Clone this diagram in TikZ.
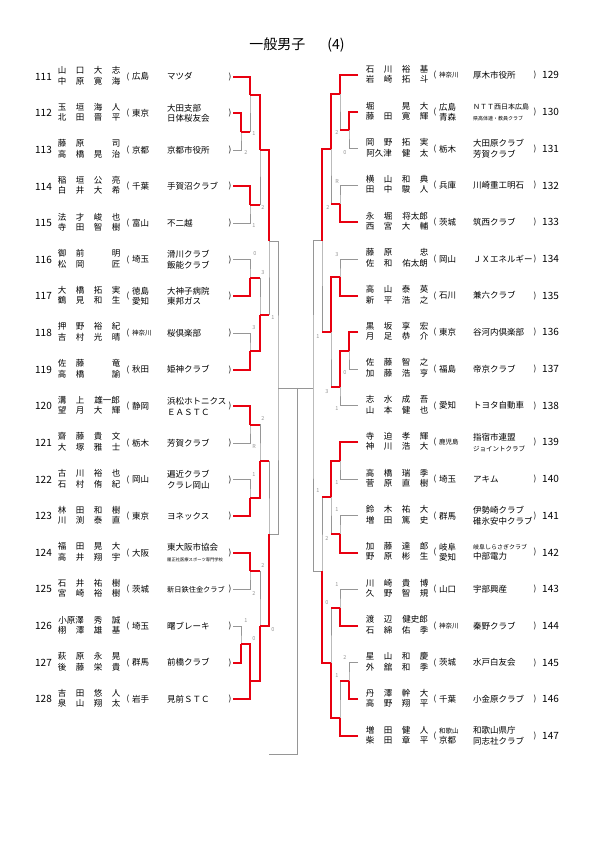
\documentclass[tikz,border=0pt]{standalone}
\usepackage{fontspec}
\setmainfont{Noto Sans CJK JP}
\usetikzlibrary{calc}
\definecolor{winred}{RGB}{232,0,16}
\definecolor{drawgray}{RGB}{150,150,150}
% name cells: one character per cell, or a wide cell for three characters
\newcommand\cl[1]{\makebox[18pt]{#1}}
\newcommand\cll[1]{\makebox[36pt]{#1}}
\newcommand\cells[4]{\cl{#1}\cl{#2}\cl{#3}\cl{#4}}
\newcommand\sm{\fontsize{6.5}{7.5}\selectfont}
\tikzset{
  title/.style={inner sep=0pt, font=\fontsize{14}{16}\selectfont},
  entryno/.style={inner sep=0pt, font=\fontsize{10}{12}\selectfont},
  names/.style={inner sep=0pt, anchor=west, align=left, font=\fontsize{8.5}{10.5}\selectfont},
  pref/.style={inner sep=0pt, anchor=west, align=left, font=\fontsize{8.5}{10.5}\selectfont},
  team/.style={inner sep=0pt, anchor=west, align=left, font=\fontsize{8.5}{10.5}\selectfont},
  paren/.style={inner sep=0pt, font=\fontsize{8}{10}\selectfont},
  score/.style={inner sep=0pt, text=drawgray, font=\fontsize{5.5}{6}\selectfont},
  gline/.style={draw=drawgray, line width=0.7pt},
  rline/.style={draw=winred, line width=2pt},
}
\begin{document}
\begin{tikzpicture}[x=1pt, y=-1pt]
    \useasboundingbox (0,0) rectangle (595,842);
    \node[title] (title) at (297,45) {一般男子\hspace{22pt}(4)};

    % Left half: 111 - 128
    \foreach \n/\na/\pr/\tm in {
        111/{\cells{山}{口}{大}{志}\\\cells{中}{原}{寛}{海}}/広島/マツダ,
        112/{\cells{玉}{垣}{海}{人}\\\cells{北}{田}{晋}{平}}/東京/{大田支部\\日体桜友会},
        113/{\cells{藤}{原}{}{司}\\\cells{高}{橋}{晃}{治}}/京都/京都市役所,
        114/{\cells{稲}{垣}{公}{亮}\\\cells{白}{井}{大}{希}}/千葉/手賀沼クラブ,
        115/{\cells{法}{才}{峻}{也}\\\cells{寺}{田}{智}{樹}}/富山/不二越,
        116/{\cells{御}{前}{}{明}\\\cells{松}{岡}{}{匠}}/埼玉/{滑川クラブ\\飯能クラブ},
        117/{\cells{大}{橋}{拓}{実}\\\cells{鶴}{見}{和}{生}}/{徳島\\愛知}/{大神子病院\\東邦ガス},
        118/{\cells{押}{野}{裕}{紀}\\\cells{吉}{村}{光}{晴}}/{\sm 神奈川}/桜倶楽部,
        119/{\cells{佐}{藤}{}{竜}\\\cells{高}{橋}{}{諭}}/秋田/姫神クラブ,
        120/{\cl{溝}\cl{上}\cll{雄一郎}\\\cells{望}{月}{大}{輝}}/静岡/{浜松ホトニクス\\ＥＡＳＴＣ},
        121/{\cells{齋}{藤}{貴}{文}\\\cells{大}{塚}{雅}{士}}/栃木/芳賀クラブ,
        122/{\cells{古}{川}{裕}{也}\\\cells{石}{村}{侑}{紀}}/岡山/{遍近クラブ\\クラレ岡山},
        123/{\cells{林}{田}{和}{樹}\\\cells{川}{渕}{泰}{直}}/東京/ヨネックス,
        124/{\cells{福}{田}{晃}{大}\\\cells{高}{井}{翔}{宇}}/大阪/{東大阪市協会\\{\fontsize{4.3}{5}\selectfont 履正社医療スポーツ専門学校}},
        125/{\cells{石}{井}{祐}{樹}\\\cells{宮}{崎}{裕}{樹}}/茨城/{\fontsize{7.2}{8}\selectfont 新日鉄住金クラブ},
        126/{\cll{小原澤}\cl{秀}\cl{誠}\\\cells{栩}{澤}{雄}{基}}/埼玉/曙ブレーキ,
        127/{\cells{萩}{原}{永}{晃}\\\cells{後}{藤}{栄}{貴}}/群馬/前橋クラブ,
        128/{\cells{吉}{田}{悠}{人}\\\cells{泉}{山}{翔}{太}}/岩手/見前ＳＴＣ}{
        \pgfmathsetmacro\y{76.6+36.63*(\n-111)}
        \node[entryno, anchor=east] (no\n) at (52,\y) {\n};
        \node[names] (nm\n) at (53,\y-1) {\na};
        \node[paren] (op\n) at (128,\y) {(};
        \node[pref] (pr\n) at (132,\y) {\pr};
        \node[team] (tm\n) at (167,\y) {\tm};
        \node[paren] (cp\n) at (230,\y) {)};
        \coordinate (L\n) at (233,\y);
    }

    % Right half: 129 - 147
    \foreach \n/\na/\pr/\tm in {
        129/{\cells{石}{川}{裕}{基}\\\cells{岩}{崎}{拓}{斗}}/{\sm 神奈川}/厚木市役所,
        130/{\cells{堀}{}{晃}{大}\\\cells{藤}{田}{寛}{輝}}/{広島\\青森}/{{\fontsize{7}{8}\selectfont ＮＴＴ西日本広島}\\{\fontsize{5}{6}\selectfont 県高体連・教員クラブ}},
        131/{\cells{岡}{野}{拓}{実}\\\cll{阿久津}\cl{健}\cl{太}}/栃木/{大田原クラブ\\芳賀クラブ},
        132/{\cells{横}{山}{和}{典}\\\cells{田}{中}{駿}{人}}/兵庫/川崎重工明石,
        133/{\cl{永}\cl{堀}\cll{将太郎}\\\cells{西}{宮}{大}{輔}}/茨城/筑西クラブ,
        134/{\cells{藤}{原}{}{忠}\\\cl{佐}\cl{和}\cll{佑太朗}}/岡山/ＪＸエネルギー,
        135/{\cells{高}{山}{泰}{英}\\\cells{新}{平}{浩}{之}}/石川/兼六クラブ,
        136/{\cells{黒}{坂}{享}{宏}\\\cells{月}{足}{恭}{介}}/東京/谷河内倶楽部,
        137/{\cells{佐}{藤}{智}{之}\\\cells{加}{藤}{浩}{亨}}/福島/帝京クラブ,
        138/{\cells{志}{水}{成}{吾}\\\cells{山}{本}{健}{也}}/愛知/トヨタ自動車,
        139/{\cells{寺}{迫}{孝}{輝}\\\cells{神}{川}{浩}{大}}/{\sm 鹿児島}/{指宿市連盟\\{\sm ジョイントクラブ}},
        140/{\cells{高}{橋}{瑞}{季}\\\cells{菅}{原}{直}{樹}}/埼玉/アキム,
        141/{\cells{鈴}{木}{祐}{大}\\\cells{増}{田}{篤}{史}}/群馬/{伊勢崎クラブ\\碓氷安中クラブ},
        142/{\cells{加}{藤}{達}{郎}\\\cells{野}{原}{彬}{生}}/{岐阜\\愛知}/{{\fontsize{6}{7}\selectfont 岐阜しらさぎクラブ}\\中部電力},
        143/{\cells{川}{崎}{貴}{博}\\\cells{久}{野}{智}{規}}/山口/宇部興産,
        144/{\cl{渡}\cl{辺}\cll{健史郎}\\\cells{石}{綿}{佑}{季}}/{\sm 神奈川}/秦野クラブ,
        145/{\cells{星}{山}{和}{慶}\\\cells{外}{舘}{和}{季}}/茨城/水戸白友会,
        146/{\cells{丹}{澤}{幹}{大}\\\cells{高}{野}{翔}{平}}/千葉/小金原クラブ,
        147/{\cells{増}{田}{健}{人}\\\cells{柴}{田}{章}{平}}/{{\sm 和歌山}\\京都}/{和歌山県庁\\同志社クラブ}}{
        \pgfmathsetmacro\y{75.4+36.7*(\n-129)}
        \node[names] (nm\n) at (361,\y-1) {\na};
        \node[paren] (op\n) at (435,\y) {(};
        \node[pref] (pr\n) at (439,\y) {\pr};
        \node[team] (tm\n) at (473,\y) {\tm};
        \node[paren] (cp\n) at (535,\y) {)};
        \node[entryno, anchor=west] (no\n) at (542,\y) {\n};
        \coordinate (R\n) at (358,\y);
    }

    % Junctions, left
    \coordinate (m1) at ($(L112)!.5!(L113)+(8,0)$);
    \coordinate (m2) at ($(L111)!.5!(L112)+(17,0)$);
    \coordinate (m3) at ($(L114)!.5!(L115)+(17,0)$);
    \coordinate (m4) at ($(m2)!.5!(m3)+(10,0)$);
    \coordinate (m5) at ($(L116)!.5!(L117)+(17,0)$);
    \coordinate (m6) at ($(L118)!.5!(L119)+(17,0)$);
    \coordinate (m7) at ($(m5)!.5!(m6)+(10,0)$);
    \coordinate (m8) at ($(L115)!.5!(L116)+(36,0)$);
    \coordinate (m9) at ($(L120)!.5!(L121)+(17,0)$);
    \coordinate (m10) at ($(L122)!.5!(L123)+(17,0)$);
    \coordinate (m11) at ($(m9)!.5!(m10)+(10,0)$);
    \coordinate (m12) at ($(L124)!.5!(L125)+(17,0)$);
    \coordinate (m13) at ($(L126)!.5!(L127)+(8,0)$);
    \coordinate (m14) at ($(L127)!.5!(L128)+(17,0)$);
    \coordinate (m15) at ($(m12)!.5!(m14)+(10,0)$);
    \coordinate (m16) at ($(L123)!.5!(L124)+(36,0)$);
    \coordinate (m17) at ($(m8)!.5!(m16)+(9,0)$);

    % Junctions, right
    \coordinate (r1) at ($(R130)!.5!(R131)+(-9,0)$);
    \coordinate (r2) at ($(R129)!.5!(R130)+(-18,0)$);
    \coordinate (r3) at ($(R132)!.5!(R133)+(-18,0)$);
    \coordinate (r4) at ($(r2)!.5!(r3)+(-9,0)$);
    \coordinate (r5) at ($(R134)!.5!(R135)+(-18,0)$);
    \coordinate (r6) at ($(R136)!.5!(R137)+(-9,0)$);
    \coordinate (r7) at ($(R137)!.5!(R138)+(-18,0)$);
    \coordinate (r8) at ($(r5)!.5!(r7)+(-9,0)$);
    \coordinate (r9) at ($(R133)!.5!(R134)+(-36,0)$);
    \coordinate (r10) at ($(R139)!.5!(R140)+(-18,0)$);
    \coordinate (r11) at ($(R141)!.5!(R142)+(-18,0)$);
    \coordinate (r12) at ($(r10)!.5!(r11)+(-9,0)$);
    \coordinate (r13) at ($(R143)!.5!(R144)+(-18,0)$);
    \coordinate (r14) at ($(R145)!.5!(R146)+(-9,0)$);
    \coordinate (r15) at ($(R146)!.5!(R147)+(-18,0)$);
    \coordinate (r16) at ($(r13)!.5!(r15)+(-9,0)$);
    \coordinate (r17) at ($(R142)!.5!(R143)+(-36,0)$);
    \coordinate (r18) at ($(m17 -| r17)+(-9,0)$);

    % Centre
    \coordinate (c1) at ($(m17)+(19,0)$);
    \coordinate (c2) at ($(m16 -| m8)+(0,220)$);

    % Bracket
    \foreach \a/\m/\b in {L112/m1/L113, L111/m2/m1, L114/m3/L115, m2/m4/m3,
        L116/m5/L117, L118/m6/L119, m5/m7/m6, m4/m8/m7, L120/m9/L121,
        L122/m10/L123, m9/m11/m10, L124/m12/L125, L126/m13/L127,
        m13/m14/L128, m12/m15/m14, m11/m16/m15, m8/m17/m16,
        R130/r1/R131, R129/r2/r1, R132/r3/R133, r2/r4/r3, R134/r5/R135,
        R136/r6/R137, r6/r7/R138, r5/r8/r7, r4/r9/r8, R139/r10/R140,
        R141/r11/R142, r10/r12/r11, R143/r13/R144, R145/r14/R146,
        r14/r15/R147, r13/r16/r15, r12/r17/r16, r9/r18/r17}
        \draw[gline] (\a) -| (\m) |- (\b);
    \draw[gline] (m17) -- (c1);
    \draw[gline] (r18) -- (c1);
    \draw[gline] (c1) |- (c2);

    % Winners
    \foreach \w/\m in {L112/m1, L111/m2, L114/m3, m2/m4, L117/m5, L119/m6,
        m6/m7, m4/m8, L120/m9, L123/m10, m10/m11, L124/m12, L127/m13,
        m13/m14, L128/m14, m14/m15, m15/m16,
        R130/r1, R129/r2, R133/r3, r2/r4, R135/r5, R136/r6, r6/r7, r5/r8,
        r4/r9, R139/r10, R142/r11, r10/r12, R144/r13, R146/r14, R147/r15,
        r15/r16, r16/r17}
        \draw[rline] (\w) -| (\m);
    \foreach \l/\m in {m1/m2, m3/m4, m5/m7, m7/m8, m9/m11, m12/m15, m11/m16,
        r1/r2, r3/r4, r7/r8, r8/r9, r11/r12, r13/r16, r14/r15, r12/r17}
        \draw[rline] (\l) -- (\l -| \m);

    % Scores
    \foreach \x/\y/\s [count=\i] in {254/134/1, 246/153/2, 263/208/2,
        254/226/1, 255/254/0, 263/273/3, 254/328/3, 273/318/1, 263/418/2,
        254/446/R, 254/475/1, 263/565/2, 254/593/2, 246/621/1, 254/639/0,
        273/630/0, 337/133/2, 345/153/0, 337/181/R, 328/208/2, 337/255/3,
        318/337/1, 345/373/0, 327/392/3, 337/409/1, 337/483/1, 318/491/1,
        337/510/1, 327/538/2, 337/585/1, 327/603/0, 345/657/2, 337/676/1}
        \node[score] (s\i) at (\x,\y) {\s};
\end{tikzpicture}
\end{document}
